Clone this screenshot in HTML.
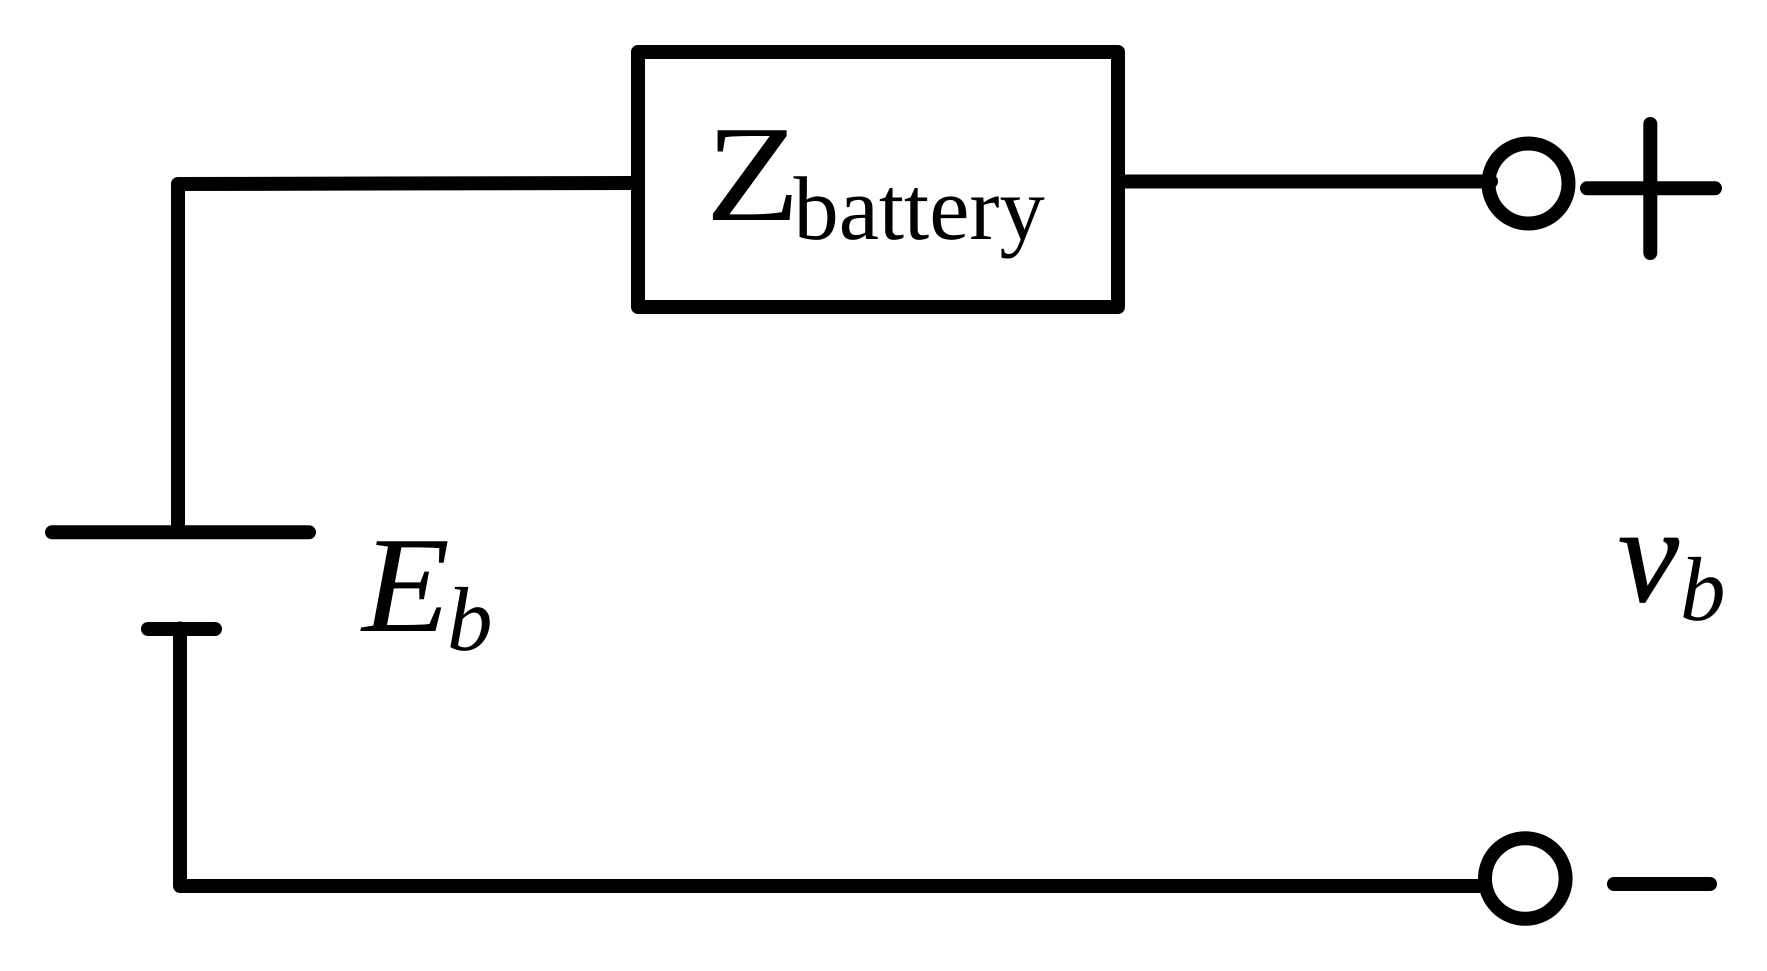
<!DOCTYPE html>
<html>
<head>
<meta charset="utf-8">
<style>
html,body{margin:0;padding:0;background:#fff;width:1767px;height:971px;overflow:hidden}
svg{display:block}
text{fill:#000;font-family:"Liberation Serif",serif;text-rendering:geometricPrecision}
</style>
</head>
<body>
<svg width="1767" height="971" viewBox="0 0 1767 971" xmlns="http://www.w3.org/2000/svg">
<rect width="1767" height="971" fill="#fff"/>
<g fill="none" stroke="#000" stroke-width="14" stroke-linejoin="round" stroke-linecap="round">
<rect x="638" y="52" width="480" height="255" stroke-width="14"/>
<path d="M638 183 L178 184 L178 532" stroke-linecap="butt"/>
<path d="M52 532.300 H309"/>
<path d="M148 629 H215"/>
<path d="M180 628.500 V886 H1490"/>
<path d="M1123 181.500 H1491"/>
<circle cx="1528.500" cy="183.500" r="40" fill="none" stroke-width="14"/>
<circle cx="1525.300" cy="878.500" r="40.300" fill="#fff" stroke-width="14"/>
<path d="M1587 188.300 H1715"/>
<path d="M1650.300 124 V253"/>
<path d="M1614 884 H1710"/>
</g>
<g transform="translate(705.500,220) scale(1.13,1)"><text x="0" y="0" font-size="137">Z</text></g>
<text x="793.500" y="239" font-size="90.500">battery</text>
<g transform="translate(362,631) scale(1.05,1)"><text x="0" y="0" font-size="137" font-style="italic">E</text></g>
<text x="447" y="650" font-size="91" font-style="italic">b</text>
<text x="1618" y="601" font-size="137" font-style="italic" stroke="#000" stroke-width="1">v</text>
<text x="1680" y="620" font-size="91" font-style="italic">b</text>
</svg>
</body>
</html>
